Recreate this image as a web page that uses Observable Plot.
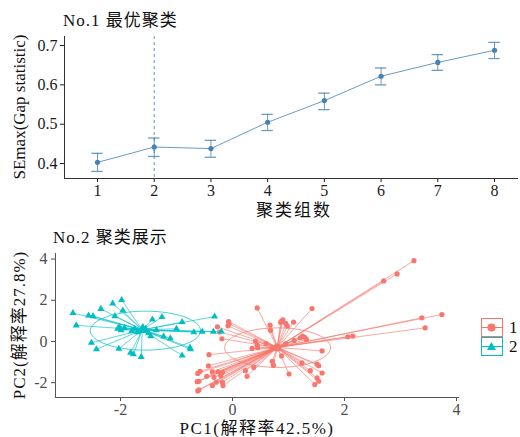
<!DOCTYPE html>
<html><head><meta charset="utf-8">
<script src="https://cdn.jsdelivr.net/npm/d3@7"></script>
<script src="https://cdn.jsdelivr.net/npm/@observablehq/plot@0.6"></script>
<style>
body{margin:0;background:#fff;}
#wrap{position:relative;width:520px;height:437px;overflow:hidden;font-family:"Liberation Serif","Noto Sans CJK SC",serif;}
#wrap svg{position:absolute;left:0;}
.t{position:absolute;white-space:nowrap;line-height:1;font-size:17px;color:#111;font-family:"Liberation Serif","Noto Sans CJK SC",serif;}
</style></head><body><div id="wrap"></div>
<script>
// ---------- Panel 1: gap statistic ----------
const kValues = [1, 2, 3, 4, 5, 6, 7, 8];
const gapValue = [0.403, 0.442, 0.438, 0.505, 0.560, 0.622, 0.657, 0.688];
const gapLower = [0.380, 0.418, 0.416, 0.484, 0.537, 0.600, 0.637, 0.667];
const gapUpper = [0.426, 0.465, 0.459, 0.525, 0.579, 0.643, 0.677, 0.708];
const optimalK = [2];
const topXTicks = [1, 2, 3, 4, 5, 6, 7, 8];
const topYTicks = [0.4, 0.5, 0.6, 0.7];
const title1 = "No.1 最优聚类";
const xLabel1 = "聚类组数";
const yLabel1 = "SEmax(Gap statistic)";

// ---------- Panel 2: cluster PCA ----------
const clusterNames = ["1", "2"];
const clusterColors = ["#F8766D", "#00BFC4"];
const cluster1Points = [
  [3.24,3.92],[2.94,3.28],[2.70,2.94],[3.74,1.31],[3.38,1.15],[3.44,0.66],[2.15,0.26],[2.06,0.23],
  [0.44,1.63],[1.42,1.60],[0.67,0.79],[0.875,0.99],[0.90,1.05],[0.86,0.93],[0.95,0.88],[1.09,0.94],[0.98,0.75],[0.68,0.54],
  [-0.07,0.97],[-0.06,0.86],[-0.08,0.76],[-0.27,0.71],[-0.23,0.46],[-0.19,0.13],
  [1.21,0.18],[1.29,0.20],[1.32,0.10],[1.25,0.26],[1.60,-0.46],[1.10,0.05],
  [0.41,0.02],[0.44,-0.18],[0.35,-0.34],[0.45,-0.30],[0.60,-0.10],[0.95,-0.10],[0.70,-0.35],
  [0.875,-0.70],[0.71,-0.96],[0.73,-1.15],[1.24,-1.04],[1.51,-1.10],[1.54,-1.18],[1.39,-1.42],[1.60,-1.53],
  [1.01,-1.58],[1.51,-1.77],[1.54,-1.93],[1.47,-2.09],[0.38,-1.26],[0.23,-1.42],[0.26,-1.69],
  [-0.42,-0.64],[-0.43,-1.18],[-0.36,-1.47],[-0.58,-1.45],[-0.62,-1.55],[-0.46,-1.69],[-0.60,-1.93],[-0.63,-1.95],
  [-0.26,-1.47],[-0.18,-1.50],[-0.33,-1.74],[-0.21,-1.66],[-0.29,-1.98],[-0.17,-2.14],[-0.36,-2.14],
  [-0.60,-2.35],[-0.62,-2.40],[-0.18,-1.98]
];
const cluster2Points = [
  [-2.85,1.38],[-2.79,0.78],[-2.57,1.26],[-2.49,1.23],[-2.35,1.58],[-2.14,1.84],[-1.98,2.01],[-1.96,1.50],
  [-2.10,1.23],[-2.02,0.70],[-1.93,0.66],[-2.05,0.62],[-1.99,0.55],[-1.43,1.07],[-1.26,1.19],[-0.90,0.94],
  [-0.32,1.21],[-1.00,0.62],[-0.69,0.45],[-0.54,0.47],[-0.34,0.47],[-0.20,0.48],[-1.23,0.24],[-1.11,0.15],
  [-1.46,0.26],[-2.52,-0.06],[-2.43,-0.38],[-2.03,-0.35],[-1.77,-0.62],[-1.82,-0.55],[-1.63,-0.75],[-0.90,-0.68],
  [-0.76,-0.30],[-0.75,-0.38],[-1.75,0.62],[-1.55,0.62],[-1.50,0.40],[-1.70,0.45],[-1.60,0.70],[-1.80,0.50],[-1.36,0.55]
];
const clusterCentroids = [[0.80, -0.29], [-1.61, 0.56]];
const ellipseCenters = [[0.805, -0.30], [-1.555, 0.525]];
const ellipseRadii = [[0.945, 0.96], [0.985, 0.945]];
const bottomTicks = [-2, 0, 2, 4];
const title2 = "No.2 聚类展示";
const xLabel2 = "PC1(解释率42.5%)";
const yLabel2 = "PC2(解释率27.8%)";

const wrap = document.getElementById("wrap");
const FONT = '"Liberation Serif","Noto Sans CJK SC",serif';

// ----- top plot -----
const gapTable = kValues.map((k, i) => ({k, gap: gapValue[i], lo: gapLower[i], hi: gapUpper[i]}));
const topX = [0.418, 8.423], topY = [0.362, 0.723];
const blue = "#4682B4";
const plotTop = Plot.plot({
  width: 520, height: 220,
  marginLeft: 64, marginRight: 2, marginTop: 36, marginBottom: 42,
  style: {fontFamily: FONT, fontSize: "16px", color: "#1a1a1a", background: "transparent"},
  x: {domain: topX, ticks: topXTicks, tickFormat: d => String(d), tickSize: 4, tickPadding: 2, label: null},
  y: {domain: topY, ticks: topYTicks, tickFormat: d3.format(".1f"), tickSize: 4, tickPadding: 3, label: null},
  marks: [
    Plot.ruleX(optimalK, {stroke: blue, strokeOpacity: 0.85, strokeDasharray: "3,3"}),
    Plot.ruleX(gapTable, {x: "k", y1: "lo", y2: "hi", stroke: blue, strokeOpacity: 0.8}),
    Plot.ruleY(gapTable, {y: "lo", x1: d => d.k - 0.1, x2: d => d.k + 0.1, stroke: blue, strokeOpacity: 0.8, strokeWidth: 1.3}),
    Plot.ruleY(gapTable, {y: "hi", x1: d => d.k - 0.1, x2: d => d.k + 0.1, stroke: blue, strokeOpacity: 0.8, strokeWidth: 1.3}),
    Plot.line(gapTable, {x: "k", y: "gap", stroke: blue, strokeOpacity: 0.8, strokeWidth: 1}),
    Plot.dot(gapTable, {x: "k", y: "gap", r: 2.6, fill: blue}),
    Plot.ruleX([topX[0]], {stroke: "#333", strokeWidth: 1}),
    Plot.ruleY([topY[0]], {stroke: "#333", strokeWidth: 1})
  ]
});
plotTop.style.top = "0px";
wrap.appendChild(plotTop);

// ----- bottom plot -----
const pts = [
  ...cluster1Points.map(([x, y]) => ({x, y, c: clusterNames[0], i: 0})),
  ...cluster2Points.map(([x, y]) => ({x, y, c: clusterNames[1], i: 1}))
];
const cents = clusterCentroids.map(([x, y], i) => ({x, y, c: clusterNames[i]}));
const ellPts = [];
clusterNames.forEach((c, i) => {
  for (let a = 0; a <= 360; a += 4) {
    const t = a * Math.PI / 180;
    ellPts.push({c, x: ellipseCenters[i][0] + ellipseRadii[i][0] * Math.cos(t), y: ellipseCenters[i][1] + ellipseRadii[i][1] * Math.sin(t)});
  }
});
const botX = [-3.161, 4.054], botY = [-2.72, 4.27];
const plotBottom = Plot.plot({
  width: 520, height: 217,
  marginLeft: 55, marginRight: 61, marginTop: 33, marginBottom: 40,
  style: {fontFamily: FONT, fontSize: "16px", color: "#4d4d4d", background: "transparent"},
  x: {domain: botX, ticks: bottomTicks, tickFormat: d => String(d), tickSize: 4, tickPadding: 2, label: null},
  y: {domain: botY, ticks: bottomTicks, tickFormat: d => String(d), tickSize: 4, tickPadding: 4, label: null},
  color: {domain: clusterNames, range: clusterColors},
  symbol: {domain: clusterNames, range: ["circle", "triangle"]},
  marks: [
    Plot.line(ellPts, {x: "x", y: "y", z: "c", stroke: "c", strokeWidth: 0.9, strokeOpacity: 0.8}),
    Plot.link(pts, {x1: "x", y1: "y", x2: d => clusterCentroids[d.i][0], y2: d => clusterCentroids[d.i][1], stroke: "c", strokeWidth: 0.9, strokeOpacity: 0.7}),
    Plot.dot(pts, {x: "x", y: "y", fill: "c", symbol: "c", r: 2.6}),
    Plot.dot(cents, {x: "x", y: "y", fill: "c", symbol: "c", r: 4}),
    Plot.ruleX([botX[0]], {stroke: "#555", strokeWidth: 1}),
    Plot.ruleY([botY[0]], {stroke: "#555", strokeWidth: 1})
  ]
});
plotBottom.style.top = "220px";
wrap.appendChild(plotBottom);

// ----- text -----
function addText(txt, css) {
  const d = document.createElement("div");
  d.className = "t";
  d.textContent = txt;
  Object.assign(d.style, css);
  wrap.appendChild(d);
}
addText(title1, {left: "63px", top: "12px", color: "#111", letterSpacing: "1px"});
addText(xLabel1, {left: "294px", top: "210px", transform: "translate(-50%,-50%)", letterSpacing: "2px"});
addText(yLabel1, {left: "19px", top: "107px", transform: "translate(-50%,-50%) rotate(-90deg)"});
addText(title2, {left: "53px", top: "229px", color: "#111", letterSpacing: "1px"});
addText(xLabel2, {left: "257px", top: "428px", transform: "translate(-50%,-50%)", letterSpacing: "1.5px"});
addText(yLabel2, {left: "19px", top: "325px", transform: "translate(-50%,-50%) rotate(-90deg)", letterSpacing: "1px"});

// ----- legend -----
const leg = document.createElement("div");
Object.assign(leg.style, {position: "absolute", left: "481px", top: "318px"});
clusterNames.forEach((c, i) => {
  const row = document.createElement("div");
  Object.assign(row.style, {display: "flex", alignItems: "center", height: "19px"});
  const sym = i === 0
    ? `<circle cx="10.5" cy="9.5" r="4" fill="${clusterColors[i]}"/>`
    : `<path d="M10.5,5 L15,13 L6,13 Z" fill="${clusterColors[i]}"/>`;
  row.innerHTML = `<svg width="22" height="19" style="position:static;display:block">
    <rect x="0.5" y="0.5" width="21" height="18" fill="#fff" stroke="${clusterColors[i]}" stroke-width="1"/>
    <line x1="1" x2="21" y1="9.5" y2="9.5" stroke="${clusterColors[i]}" stroke-width="1"/>${sym}</svg>
    <span style="margin-left:6px;font-size:17px;color:#111;line-height:1">${c}</span>`;
  leg.appendChild(row);
});
wrap.appendChild(leg);
</script>
</body></html>
